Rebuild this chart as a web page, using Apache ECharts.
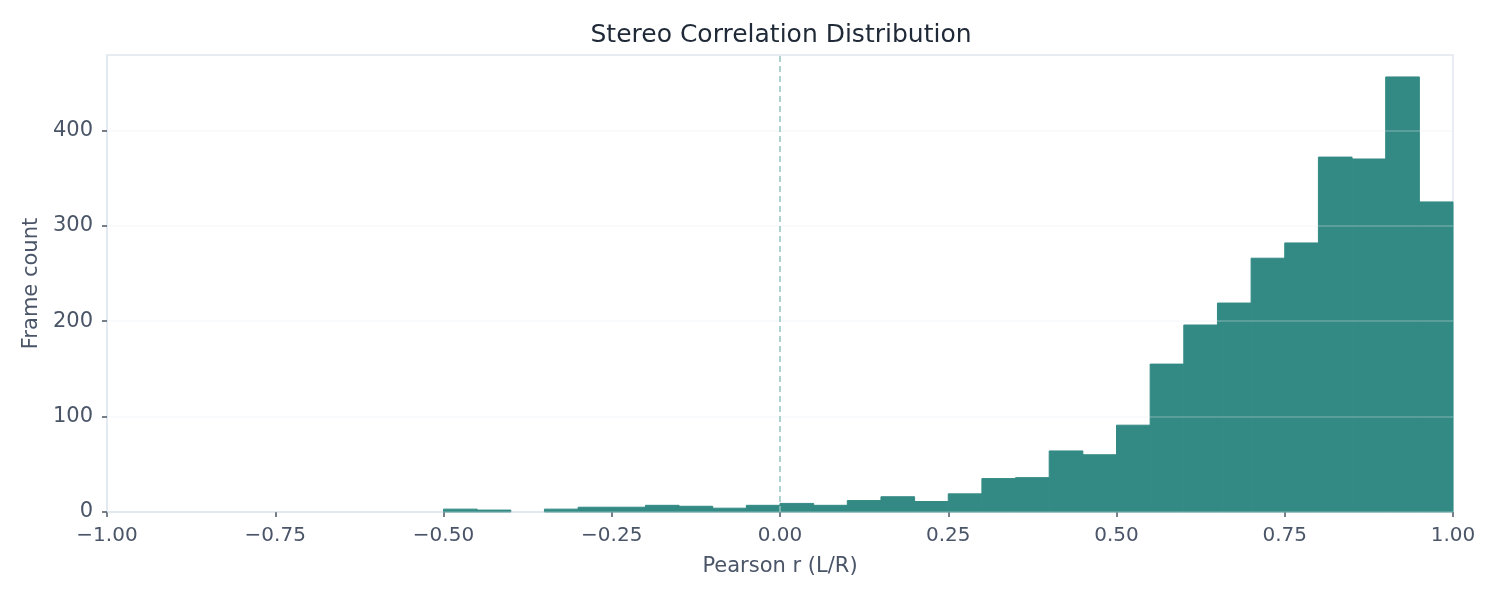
<!DOCTYPE html>
<html>
<head>
    <meta charset="utf-8">
    <title>Stereo Correlation Distribution</title>
    <script src="https://cdn.jsdelivr.net/npm/echarts@6/dist/echarts.min.js"></script>
</head>
<body style="margin:0;background:#fff;">
<div id="main" style="width:1500px;height:600px;"></div>

<script type="text/javascript">
    // histogram bins (left edges), width 0.05
    var binStart = [
        -1.00, -0.95, -0.90, -0.85, -0.80, -0.75, -0.70, -0.65, -0.60, -0.55,
        -0.50, -0.45, -0.40, -0.35, -0.30, -0.25, -0.20, -0.15, -0.10, -0.05,
         0.00,  0.05,  0.10,  0.15,  0.20,  0.25,  0.30,  0.35,  0.40,  0.45,
         0.50,  0.55,  0.60,  0.65,  0.70,  0.75,  0.80,  0.85,  0.90,  0.95
    ];
    var binWidth = 0.05;
    // frame counts per bin
    var counts = [
        0, 0, 0, 0, 0, 0, 0, 0, 0, 0,
        3, 2, 0, 3, 5, 5, 7, 6, 4, 7,
        9, 7, 12, 16, 11, 19, 35, 36, 64, 60,
        91, 155, 196, 219, 266, 282, 372, 370, 456, 325
    ];

    var font = 'DejaVu Sans';
    var labelColor = '#4a5568';
    var frameColor = '#e2e8f0';
    var tickColor = '#4b5563';
    var barColor = '#338a84';

    var histData = [];
    for (var i = 0; i < binStart.length; i++) {
        histData.push([binStart[i], binStart[i] + binWidth, counts[i]]);
    }

    var chart = echarts.init(document.getElementById('main'));

    var option = {
        backgroundColor: '#ffffff',
        animation: false,
        title: {
            text: 'Stereo Correlation Distribution',
            left: 776,          // centred over the plot area, not the page
            textAlign: 'center',
            top: 18,
            textStyle: {
                fontFamily: font,
                fontSize: 25,
                fontWeight: 'normal',
                color: '#1f2937'
            }
        },
        grid: {
            left: 107,
            right: 47,
            top: 55,
            bottom: 88,
            show: true,
            borderColor: frameColor,
            borderWidth: 1.5,
            backgroundColor: 'transparent'
        },
        xAxis: {
            type: 'value',
            min: -1,
            max: 1,
            interval: 0.25,
            name: 'Pearson r (L/R)',
            nameLocation: 'middle',
            nameGap: 44,
            nameTextStyle: { fontFamily: font, fontSize: 21, color: labelColor },
            axisLine: { show: true, onZero: false, lineStyle: { color: frameColor, width: 1.5 } },
            axisTick: { show: true, length: 5, lineStyle: { color: tickColor, width: 1.5 } },
            axisLabel: {
                fontFamily: font,
                fontSize: 20,
                color: labelColor,
                margin: 14,
                formatter: function (v) {
                    return v.toFixed(2).replace('-', '\u2212');
                }
            },
            splitLine: { show: false }
        },
        yAxis: {
            type: 'value',
            min: 0,
            max: 479,
            interval: 100,
            z: 3,
            name: 'Frame count',
            nameLocation: 'middle',
            nameGap: 62,
            nameTextStyle: { fontFamily: font, fontSize: 21, color: labelColor },
            axisLine: { show: true, onZero: false, lineStyle: { color: frameColor, width: 1.5 } },
            axisTick: { show: true, length: 5, lineStyle: { color: tickColor, width: 1.5 } },
            axisLabel: {
                fontFamily: font,
                fontSize: 21,
                color: labelColor,
                margin: 14,
                showMaxLabel: false
            },
            splitLine: { show: true, lineStyle: { color: 'rgba(229,231,235,0.3)', width: 1.5 } }
        },
        series: [
            {
                // dashed zero line, kept under the bars
                type: 'line',
                data: [],
                z: 1,
                silent: true,
                markLine: {
                    symbol: 'none',
                    silent: true,
                    label: { show: false },
                    lineStyle: { color: '#93c4bf', type: [6, 4], width: 1.5 },
                    data: [{ xAxis: 0 }]
                }
            },
            {
                name: 'Frames',
                type: 'custom',
                z: 2,
                renderItem: function (params, api) {
                    if (!api.value(2)) {
                        return null;
                    }
                    var p0 = api.coord([api.value(0), 0]);
                    var p1 = api.coord([api.value(1), api.value(2)]);
                    return {
                        type: 'rect',
                        shape: { x: p0[0], y: p1[1], width: p1[0] - p0[0], height: p0[1] - p1[1] },
                        style: { fill: barColor, stroke: barColor, lineWidth: 1 }
                    };
                },
                encode: { x: [0, 1], y: 2 },
                data: histData
            }
        ]
    };

    chart.setOption(option);
</script>
</body>
</html>
